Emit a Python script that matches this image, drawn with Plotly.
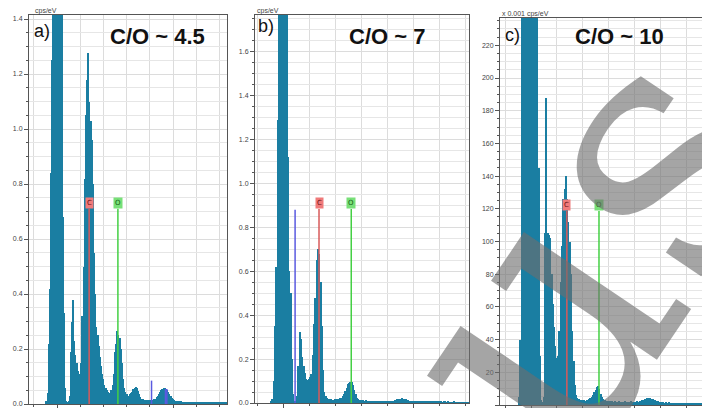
import plotly.graph_objects as go

W, H = 702, 408

# ---------------- data ----------------
E_START = -0.10   # keV, first bin centre
E_STEP = 0.01     # keV, bin width

spec_a = [
    0, 0.01, 0.04, 0.22, 0.42, 0.84, 1.25, 2.0, 2.5, 2.8,
    2.9, 2.8, 2.5, 2.0, 1.5, 0.68, 0.33, 0.06, 0.01, 0.005,
    0.01, 0.03, 0.19, 0.30, 0.378, 0.23, 0.18, 0.15, 0.12, 0.10,
    0.11, 0.15, 0.32, 0.50, 0.82, 1.05, 1.18, 1.276, 1.10, 1.03,
    0.96, 0.80, 0.55, 0.40, 0.28, 0.25, 0.21, 0.17, 0.14, 0.11,
    0.09, 0.07, 0.06, 0.05, 0.045, 0.04, 0.04, 0.05, 0.07, 0.11,
    0.19, 0.22, 0.265, 0.25, 0.24, 0.20, 0.15, 0.09, 0.06, 0.045,
    0.035, 0.03, 0.03, 0.035, 0.04, 0.045, 0.055, 0.06, 0.063, 0.058,
    0.048, 0.035, 0.025, 0.02, 0.018, 0.016, 0.015, 0.015, 0.014, 0.014,
    0.015, 0.016, 0.015, 0.016, 0.018, 0.02, 0.025, 0.03, 0.038, 0.045,
    0.05, 0.055, 0.058, 0.058, 0.055, 0.05, 0.042, 0.035, 0.028, 0.022,
    0.018, 0.015, 0.012, 0.011, 0.01, 0.01, 0.009, 0.01, 0.009, 0.009,
    0.009, 0.008, 0.009, 0.008, 0.008, 0.009, 0.008, 0.008, 0.007, 0.008,
    0.008, 0.007, 0.008, 0.007, 0.007, 0.008, 0.007, 0.007, 0.006, 0.007,
    0.007, 0.006, 0.007, 0.006, 0.006, 0.007, 0.006, 0.006, 0.006, 0.005,
    0.006, 0.005, 0.006, 0.005, 0.005, 0.005, 0.005,
]

spec_b = [
    0, 0.005, 0.02, 0.10, 0.35, 0.62, 1.29, 2.5, 2.6, 2.7,
    2.7, 2.6, 2.5, 2.2, 1.12, 0.60, 0.50, 0.20, 0.04, 0.01,
    0.005, 0.03, 0.17, 0.325, 0.29, 0.21, 0.17, 0.135, 0.11, 0.105,
    0.11, 0.12, 0.13, 0.22, 0.36, 0.48, 0.65, 0.70, 0.68, 0.55,
    0.35, 0.15, 0.05, 0.03, 0.025, 0.02, 0.018, 0.016, 0.015, 0.015,
    0.016, 0.017, 0.018, 0.02, 0.022, 0.025, 0.03, 0.04, 0.055, 0.07,
    0.085, 0.093, 0.097, 0.095, 0.08, 0.06, 0.04, 0.025, 0.018, 0.015,
    0.013, 0.012, 0.012, 0.011, 0.012, 0.011, 0.011, 0.01, 0.011, 0.01,
    0.01, 0.009, 0.01, 0.009, 0.009, 0.01, 0.009, 0.009, 0.008, 0.009,
    0.009, 0.008, 0.009, 0.009, 0.01, 0.011, 0.012, 0.014, 0.016, 0.018,
    0.019, 0.02, 0.021, 0.02, 0.018, 0.016, 0.013, 0.011, 0.01, 0.009,
    0.008, 0.008, 0.007, 0.008, 0.007, 0.007, 0.007, 0.006, 0.007, 0.006,
    0.006, 0.006, 0.006, 0.005, 0.006, 0.005, 0.005, 0.006, 0.005, 0.005,
    0.005, 0.005, 0.005, 0.004, 0.005, 0.005, 0.004, 0.005, 0.004, 0.004,
    0.004, 0.004, 0.005, 0.004, 0.004, 0.004, 0.004, 0.003, 0.004, 0.004,
    0.004, 0.003, 0.004, 0.003, 0.003,
]

# panel c is in units of 0.001 cps/eV
spec_c = [
    0, 5, 40, 250, 400, 400, 400, 400, 400, 400,
    400, 400, 400, 400, 400, 400, 145, 30, 3, 2,
    5, 105, 188, 105, 104, 102, 80, 62, 48, 36,
    29, 30, 45, 75, 97, 126, 132, 140, 126, 112,
    100, 80, 45, 27, 12, 6, 4, 3.5, 3, 3,
    3, 3, 2.5, 3, 3, 3.5, 4, 5, 6, 8,
    9, 11, 11.5, 10, 7, 5, 3.5, 3, 2.5, 2.5,
    2.5, 2.5, 2, 2.5, 2, 2.5, 2, 2, 2.5, 2,
    2, 2, 2, 2.5, 2, 2, 2, 2.5, 2, 2,
    2, 2, 2.5, 2, 2.5, 2.5, 3, 3, 3.5, 3.5,
    4, 4, 4, 3.5, 3.5, 3, 3, 2.5, 2.5, 2,
    2, 2, 2, 1.5, 2, 1.5, 1.5, 2, 1.5, 1.5,
    1.5, 1.5, 1.5, 1.5, 1.5, 1.5, 1, 1.5, 1.5, 1,
    1.5, 1, 1, 1.5, 1, 1, 1, 1, 1.5, 1, 1, 1, 1,
]

element_names = ["C", "O"]
element_energy = [0.277, 0.525]           # keV
marker_height_a = 0.71
marker_height_b = 0.884
marker_height_c = 118.7

blue_a_energy = [0.815, 0.935, 0.947]
blue_a_height = [0.085, 0.055, 0.055]
blue_b_energy = [0.093]
blue_b_height = [0.88]

panel_letters = ["a)", "b)", "c)"]
panel_titles = ["C/O ~ 4.5", "C/O ~ 7", "C/O ~ 10"]
unit_labels = ["cps/eV", "cps/eV", "x 0.001 cps/eV"]

# ---------------- styling / layout ----------------
TEAL = "#1a7ea2"
GRID = "#dcdcdc"
FRAME = "#555555"
LBL_FILL = {"C": "#f07a7a", "O": "#78e078"}
LBL_TEXT = {"C": "#6a1010", "O": "#135c13"}
LINE_COL = {"C": "#d85a5a", "O": "#44d044"}
BLUE = "#5a5ae0"

def fx(px):
    return px / W

def fy(py):
    return 1 - py / H

panels = [
    dict(spec=spec_a, dom_x=(29, 227), dom_y=(404, 15), x0px=57, kev_px=116.0,
         ypp=275.0, dtick=0.2, minor=0.05, fmt=".1f", mh=marker_height_a,
         blue=(blue_a_energy, blue_a_height)),
    dict(spec=spec_b, dom_x=(255, 469), dom_y=(403, 15), x0px=283, kev_px=130.0,
         ypp=219.5, dtick=0.2, minor=0.05, fmt=".1f", mh=marker_height_b,
         blue=(blue_b_energy, blue_b_height)),
    dict(spec=spec_c, dom_x=(500, 702), dom_y=(405, 18), x0px=531, kev_px=129.5,
         ypp=1.635, dtick=20, minor=5, fmt="d", mh=marker_height_c,
         blue=None),
]

fig = go.Figure()
layout = dict(
    width=W, height=H, margin=dict(l=0, r=0, t=0, b=0, autoexpand=False),
    paper_bgcolor="white", plot_bgcolor="white",
    showlegend=False, bargap=0,
    font=dict(family="Liberation Sans, Arial, sans-serif", color="#333"),
)
annotations = []

for i, p in enumerate(panels):
    n = "" if i == 0 else str(i + 1)
    xa, ya = "x" + n, "y" + n
    l, r = p["dom_x"]
    b, t = p["dom_y"]
    xr = [(l - p["x0px"]) / p["kev_px"], (r - p["x0px"]) / p["kev_px"]]
    yr = [0, (b - t) / p["ypp"]]

    fig.add_trace(go.Bar(
        y=p["spec"], x0=E_START, dx=E_STEP, width=E_STEP,
        marker=dict(color=TEAL, line=dict(width=0)),
        xaxis=xa, yaxis=ya, hoverinfo="skip",
    ))

    if p["blue"] is not None:
        for e, h in zip(*p["blue"]):
            fig.add_trace(go.Scatter(x=[e, e], y=[0, h], mode="lines",
                                     line=dict(color=BLUE, width=1.5),
                                     xaxis=xa, yaxis=ya, hoverinfo="skip"))

    for name, e in zip(element_names, element_energy):
        fig.add_trace(go.Scatter(x=[e, e], y=[0, p["mh"]], mode="lines",
                                 line=dict(color=LINE_COL[name], width=1.5),
                                 xaxis=xa, yaxis=ya, hoverinfo="skip"))
        annotations.append(dict(
            x=e, y=p["mh"], xref=xa, yref=ya, text=name, showarrow=False,
            yanchor="bottom", xanchor="center",
            font=dict(size=7, color=LBL_TEXT[name], family="DejaVu Sans"),
            bgcolor=LBL_FILL[name], borderpad=1,
        ))

    key_x = "xaxis" + n
    key_y = "yaxis" + n
    layout[key_x] = dict(
        domain=[fx(l), fx(r)], range=xr, anchor=ya, automargin=False,
        showline=True, linecolor=FRAME, linewidth=1, mirror=True,
        ticks="outside", ticklen=4, tickcolor=FRAME, dtick=1, tick0=0,
        showticklabels=False, showgrid=True, gridcolor=GRID, gridwidth=1,
        zeroline=False,
        minor=dict(dtick=0.2, tick0=0, ticks="outside", ticklen=2,
                   tickcolor=FRAME, showgrid=True, gridcolor=GRID),
    )
    layout[key_y] = dict(
        domain=[fy(b), fy(t)], range=yr, anchor=xa, automargin=False,
        showline=True, linecolor=FRAME, linewidth=1, mirror=True,
        ticks="outside", ticklen=4, tickcolor=FRAME, dtick=p["dtick"], tick0=0,
        tickformat=p["fmt"], tickfont=dict(size=7, color="#444"),
        showgrid=True, gridcolor=GRID, zeroline=False,
        minor=dict(dtick=p["minor"], tick0=0, ticks="outside", ticklen=2,
                   tickcolor=FRAME, showgrid=True, gridcolor="#e6e6e6"),
    )

# panel texts
letter_pos = [(32, 31), (256, 26), (503, 35)]
title_pos = [(157.5, 36.5), (387, 36.5), (619.5, 36.5)]
unit_pos = [(33, 11), (255, 11), (500, 14)]
for i in range(3):
    annotations.append(dict(x=fx(letter_pos[i][0]), y=fy(letter_pos[i][1]),
                            xref="paper", yref="paper", text=panel_letters[i],
                            showarrow=False, xanchor="left", yanchor="middle",
                            font=dict(size=18, color="#111")))
    annotations.append(dict(x=fx(title_pos[i][0]), y=fy(title_pos[i][1]),
                            xref="paper", yref="paper",
                            text="<b>" + panel_titles[i] + "</b>",
                            showarrow=False, xanchor="center", yanchor="middle",
                            font=dict(size=22, color="#111")))
    annotations.append(dict(x=fx(unit_pos[i][0]), y=fy(unit_pos[i][1]),
                            xref="paper", yref="paper", text=unit_labels[i],
                            showarrow=False, xanchor="left", yanchor="middle",
                            font=dict(size=7, color="#444")))

# watermark
annotations.append(dict(x=fx(585), y=fy(250), xref="paper", yref="paper",
                        text="us", showarrow=False, textangle=-56,
                        xanchor="center", yanchor="middle",
                        font=dict(size=350, family="DejaVu Serif",
                                  color="rgba(110,110,110,0.62)")))

layout["annotations"] = annotations
fig.update_layout(**layout)
fig.write_html("out.html")
